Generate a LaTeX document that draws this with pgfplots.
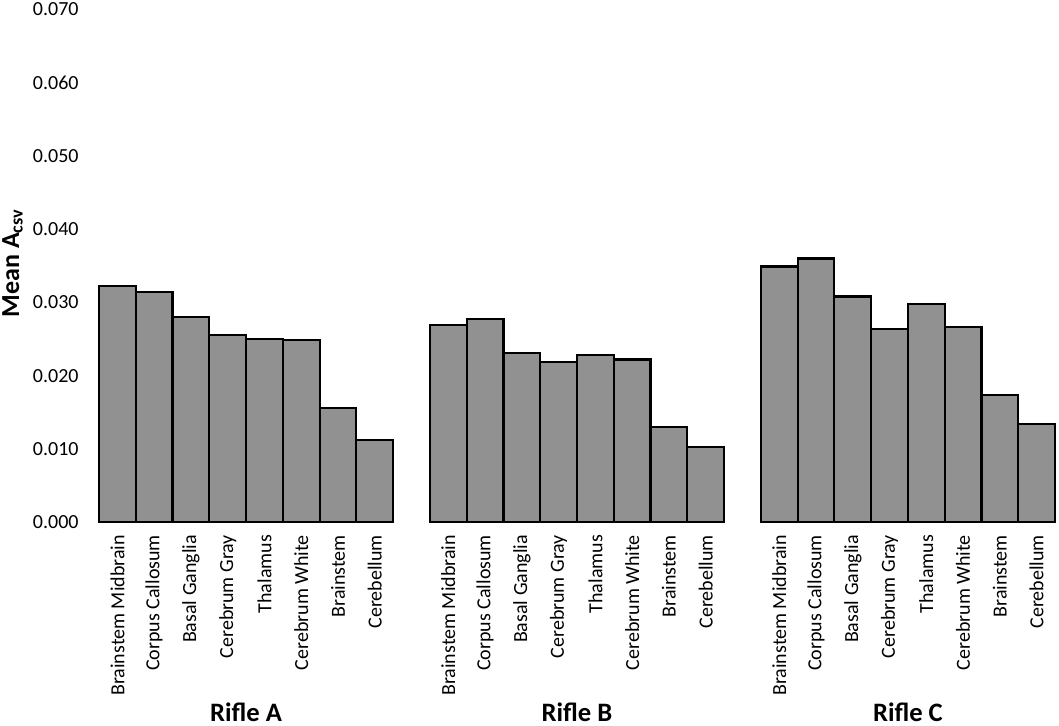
\documentclass[border=0pt]{standalone}
\usepackage{pgfplots}
\pgfplotsset{compat=1.18}
\usepackage{pgfplotstable}
\usepackage{fontspec}
\setmainfont{Carlito}
\definecolor{bargray}{HTML}{919191}
\pgfplotstableread{
x y
0.5 0.0322
1.5 0.0314
2.5 0.0280
3.5 0.0256
4.5 0.0250
5.5 0.0249
6.5 0.0156
7.5 0.0112
9.5 0.0269
10.5 0.0277
11.5 0.0231
12.5 0.0219
13.5 0.0228
14.5 0.0222
15.5 0.0130
16.5 0.0103
18.5 0.0349
19.5 0.0360
20.5 0.0308
21.5 0.0264
22.5 0.0298
23.5 0.0266
24.5 0.0174
25.5 0.0134
}\datatable
\begin{document}
\begin{tikzpicture}
\begin{axis}[
  at={(0,0)}, anchor=south west,
  scale only axis, width=478pt, height=256.55pt,
  xmin=0, xmax=26, ymin=0, ymax=0.07,
  enlargelimits=false, clip=false,
  axis line style={draw=none}, major tick length=0pt,
  ytick={0,0.01,0.02,0.03,0.04,0.05,0.06,0.07},
  yticklabels={0.000,0.010,0.020,0.030,0.040,0.050,0.060,0.070},
  yticklabel style={font=\fontsize{10}{12}\selectfont, xshift=-6.7pt},
  xtick={0.5,1.5,2.5,3.5,4.5,5.5,6.5,7.5,9.5,10.5,11.5,12.5,13.5,14.5,15.5,16.5,18.5,19.5,20.5,21.5,22.5,23.5,24.5,25.5},
  xticklabels={Brainstem Midbrain,Corpus Callosum,Basal Ganglia,Cerebrum Gray,Thalamus,Cerebrum White,Brainstem,Cerebellum,
               Brainstem Midbrain,Corpus Callosum,Basal Ganglia,Cerebrum Gray,Thalamus,Cerebrum White,Brainstem,Cerebellum,
               Brainstem Midbrain,Corpus Callosum,Basal Ganglia,Cerebrum Gray,Thalamus,Cerebrum White,Brainstem,Cerebellum},
  xticklabel style={font=\fontsize{10}{12}\selectfont, rotate=90, anchor=east, xshift=-2.85pt},
  ylabel={\bfseries Mean A\textsubscript{csv}},
  ylabel style={font=\fontsize{13}{15}\selectfont, at={(axis description cs:-0.0905,0.505)}, anchor=center},
  ybar, bar width=1,
]
\addplot[fill=bargray, draw=black, line width=1.1pt] table[x=x,y=y] {\datatable};
\node[anchor=base, font=\fontsize{13.3}{15}\selectfont\bfseries] at (axis cs:4,0) [yshift=-99.6pt] {Rifle A};
\node[anchor=base, font=\fontsize{13.3}{15}\selectfont\bfseries] at (axis cs:13,0) [yshift=-99.6pt] {Rifle B};
\node[anchor=base, font=\fontsize{13.3}{15}\selectfont\bfseries] at (axis cs:22,0) [yshift=-99.6pt] {Rifle C};
\end{axis}
\pgfresetboundingbox
\useasboundingbox (-49.5pt,-101.35pt) rectangle (480pt,261.15pt);
\end{tikzpicture}
\end{document}
